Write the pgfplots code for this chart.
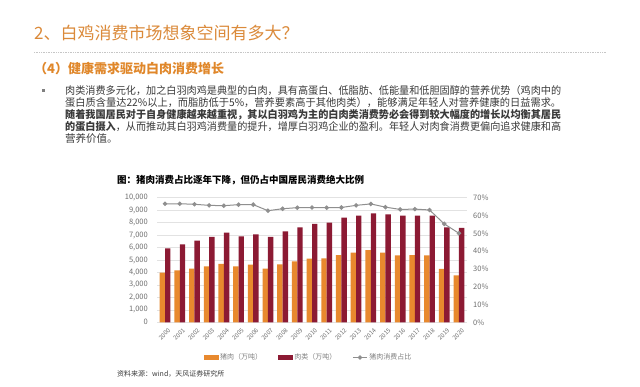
\documentclass[border=0pt]{standalone}
\usepackage{fontspec}
\setmainfont{Noto Sans CJK SC}
\usepackage{graphicx}
\usepackage{pgfplots}
\pgfplotsset{compat=1.18}
\pgfplotsset{mylineleg/.style={legend image code/.code={\draw[mark repeat=2,mark phase=2,##1] plot coordinates {(0pt,0pt) (7pt,0pt) (14pt,0pt)};}}}
\definecolor{porkc}{HTML}{E8892E}
\definecolor{meatc}{HTML}{8C1A33}
\definecolor{linec}{HTML}{8F8F8F}
\definecolor{gridc}{HTML}{E2E2E2}
\definecolor{tickc}{HTML}{6E6E6E}
\definecolor{legc}{HTML}{808080}
\definecolor{titlec}{HTML}{DB8A3A}
\definecolor{subc}{HTML}{E0872A}
\definecolor{parac}{HTML}{3A3A3A}
\begin{document}
\begin{tikzpicture}
\path[fill=white] (0pt,0pt) rectangle (640pt,387pt);
% header
\node[anchor=west, inner sep=0pt, text=titlec, font=\fontsize{17}{20}\selectfont] at (34pt,354pt) {2、白鸡消费市场想象空间有多大？};
\draw[densely dotted, color=gray!45, line width=0.7pt] (34pt,335pt) -- (606pt,335pt);
\node[anchor=west, inner sep=0pt, text=subc, font=\bfseries\fontsize{13}{15}\selectfont] at (34pt,318pt) {（4）健康需求驱动白肉消费增长};
% paragraph
\fill[gray] (41.5pt,294.5pt) rectangle (44.5pt,297.5pt);
\begin{scope}[every node/.style={anchor=west, inner sep=0pt, text=parac, font=\fontsize{10.5}{12}\selectfont}]
\node at (65pt,296pt) {\resizebox{496pt}{\height}{肉类消费多元化，加之白羽肉鸡是典型的白肉，具有高蛋白、低脂肪、低能量和低胆固醇的营养优势（鸡肉中的}};
\node at (65pt,284pt) {\resizebox{496pt}{\height}{蛋白质含量达22\%以上，而脂肪低于5\%，营养要素高于其他肉类），能够满足年轻人对营养健康的日益需求。}};
\node at (65pt,272pt) {\resizebox{496pt}{\height}{\bfseries 随着我国居民对于自身健康越来越重视，其以白羽鸡为主的白肉类消费势必会得到较大幅度的增长以均衡其居民}};
\node at (65pt,260pt) {\resizebox{496pt}{\height}{{\bfseries 的蛋白摄入}，从而推动其白羽鸡消费量的提升，增厚白羽鸡企业的盈利。年轻人对肉食消费更偏向追求健康和高}};
\node at (65pt,248pt) {营养价值。};
\end{scope}
% chart title
\node[anchor=west, inner sep=0pt, text=black, font=\bfseries\fontsize{9.5}{11}\selectfont] at (117pt,207pt) {图：猪肉消费占比逐年下降，但仍占中国居民消费绝大比例};
% source
\node[anchor=west, inner sep=0pt, text=parac, font=\fontsize{7}{8}\selectfont] at (117pt,13.5pt) {资料来源：wind，天风证券研究所};
% bars axis
\begin{axis}[
  at={(157pt,64.7pt)}, anchor=south west, scale only axis,
  width=310pt, height=124.6pt,
  xmin=1999.45, xmax=2020.55, ymin=0, ymax=10000,
  axis line style={draw=none}, tick style={draw=none},
  ytick={0,1000,...,10000}, ymajorgrids,
  grid style={color=gridc, line width=0.6pt},
  xtick={2000,...,2020},
  /pgf/number format/assume math mode=true,
  scaled y ticks=false,
  xticklabel style={rotate=45, anchor=east, font=\fontsize{6}{6.5}\selectfont, text=tickc, inner sep=0pt, yshift=-5pt, xshift=1pt, /pgf/number format/1000 sep={}},
  yticklabel style={font=\fontsize{7.5}{8}\selectfont, text=tickc, inner sep=0pt, xshift=-9pt, /pgf/number format/1000 sep={,}},
  ybar=0pt, bar width=5.4pt,
]
\addplot[fill=porkc, draw=none] coordinates {
(2000,3980) (2001,4170) (2002,4300) (2003,4490) (2004,4680) (2005,4490) (2006,4620)
(2007,4300) (2008,4650) (2009,4890) (2010,5100) (2011,5130) (2012,5400) (2013,5590)
(2014,5800) (2015,5590) (2016,5370) (2017,5400) (2018,5370) (2019,4280) (2020,3770)};
\addplot[fill=meatc, draw=none] coordinates {
(2000,5940) (2001,6260) (2002,6550) (2003,6850) (2004,7190) (2005,6900) (2006,7060)
(2007,6850) (2008,7300) (2009,7620) (2010,7890) (2011,7990) (2012,8400) (2013,8560)
(2014,8750) (2015,8670) (2016,8560) (2017,8560) (2018,8560) (2019,7620) (2020,7570)};
\end{axis}
% line axis
\begin{axis}[
  at={(157pt,64.7pt)}, anchor=south west, scale only axis,
  width=310pt, height=124.6pt,
  xmin=1999.45, xmax=2020.55, ymin=0, ymax=70,
  hide x axis, axis y line*=right,
  axis line style={draw=none}, tick style={draw=none},
  ytick={0,10,...,70},
  yticklabel={\pgfmathprintnumber{\tick}\%},
  /pgf/number format/assume math mode=true,
  yticklabel style={anchor=west, font=\fontsize{7.5}{8}\selectfont, text=tickc, inner sep=0pt, xshift=6pt},
  legend style={at={(0.489,-0.2825)}, anchor=center, draw=none, fill=none,
    font=\fontsize{7}{8}\selectfont, text=legc, inner sep=0pt,
    /tikz/every even column/.append style={column sep=14pt}},
  legend columns=3,
]
\addlegendimage{legend image code/.code={\fill[porkc] (0pt,-1.8pt) rectangle (14pt,1.8pt);}}
\addlegendentry{猪肉（万吨）}
\addlegendimage{legend image code/.code={\fill[meatc] (0pt,-1.8pt) rectangle (14pt,1.8pt);}}
\addlegendentry{肉类（万吨）}
\addplot[linec, line width=1pt, mark=*, mark size=1.7pt, mark options={fill=linec, draw=linec}, mylineleg] coordinates {
(2000,66.6) (2001,66.6) (2002,66.3) (2003,65.7) (2004,65.5) (2005,66.1) (2006,66.1)
(2007,62.7) (2008,63.8) (2009,64.4) (2010,64.5) (2011,64.4) (2012,64.5) (2013,65.7)
(2014,66.5) (2015,64.7) (2016,63.4) (2017,63.6) (2018,63.1) (2019,55.3) (2020,50.0)};
\addlegendentry{猪肉消费占比}
\end{axis}
\end{tikzpicture}
\end{document}
